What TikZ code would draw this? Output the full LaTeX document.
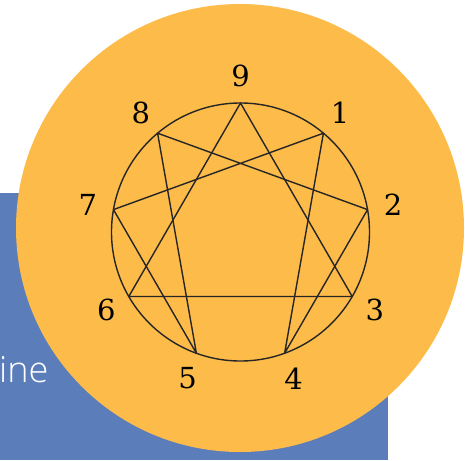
\documentclass[tikz,border=0pt]{standalone}
\usepackage{fontspec}
\usetikzlibrary{calc}
\newfontfamily\digitfont{DejaVu Serif}
\newfontfamily\slidefont{Open Sans Light}
\definecolor{slideblue}{HTML}{5B7EBB}
\definecolor{discorange}{HTML}{FDBB4A}
\begin{document}
\begin{tikzpicture}[x=1pt,y=-1pt,
  enneaedge/.style={line width=1.4pt,black!85},
  numlabel/.style={font=\digitfont\fontsize{29}{29}\selectfont,inner sep=0pt},
  pt/.style={inner sep=0pt,minimum size=0pt}]
\useasboundingbox (0,0) rectangle (465,460);
\fill[slideblue] (0,193) rectangle (388,460);
\node[anchor=base west,text=white,font=\slidefont\fontsize{36}{36}\selectfont,inner sep=0pt] (txt) at (-1,382) {ine};
\fill[discorange] (240,228) circle (224);
\coordinate (c) at (240.5,232);
\draw[enneaedge] (c) circle (129);
\foreach \n/\a in {9/90,1/50,2/10,3/-30,4/-70,5/-110,6/-150,7/170,8/130}{
  \path (c) ++(\a:129 and -129) coordinate (p\n);
  \node[numlabel] (l\n) at ($(c)+(\a:155 and -156)$) {\n};
}
\draw[enneaedge,line join=round] (p9) -- (p3) -- (p6) -- cycle;
\draw[enneaedge,line join=round] (p1) -- (p4) -- (p2) -- (p8) -- (p5) -- (p7) -- cycle;
\end{tikzpicture}
\end{document}
